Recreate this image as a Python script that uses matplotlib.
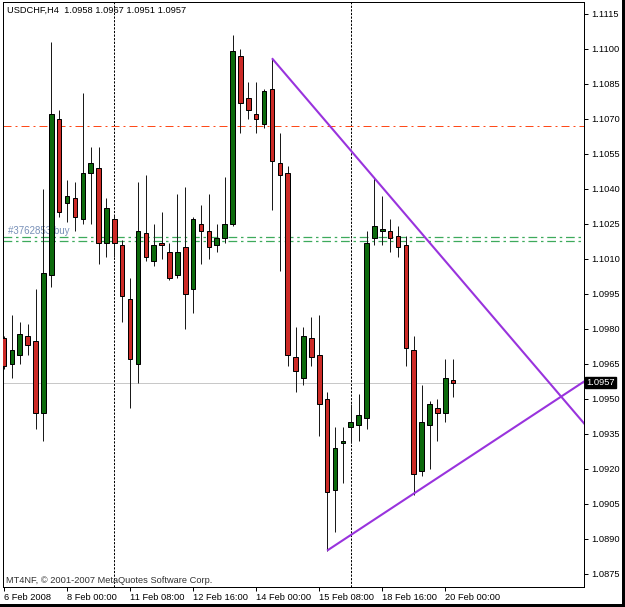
import matplotlib
matplotlib.use('Agg')
import matplotlib.pyplot as plt
import matplotlib.transforms as mtransforms
from matplotlib.patches import Rectangle
import numpy as np

plt.rcParams['font.family'] = ['Liberation Sans', 'DejaVu Sans']

# USDCHF H4 bars (first bar 6 Feb 2008 16:00)
opens = [1.0976, 1.0965, 1.0969, 1.0977, 1.0975, 1.0944, 1.1003, 1.1070, 1.1034, 1.1036,
         1.1027, 1.1047, 1.1049, 1.1017, 1.1027, 1.1016, 1.0993, 1.0965, 1.1021, 1.1009,
         1.1017, 1.1013, 1.1003, 1.1015, 1.0997, 1.1025, 1.1022, 1.1016, 1.1019, 1.1025,
         1.1097, 1.1079, 1.1072, 1.1068, 1.1083, 1.1051, 1.1047, 1.0968, 1.0959, 1.0976,
         1.0969, 1.0950, 1.0911, 1.0931, 1.0938, 1.0939, 1.0942, 1.1019, 1.1022, 1.1022,
         1.1020, 1.1016, 1.0971, 1.0919, 1.0939, 1.0946, 1.0944, 1.0958]
highs = [1.0977, 1.0986, 1.0983, 1.0982, 1.0997, 1.1040, 1.1103, 1.1074, 1.1044, 1.1043,
         1.1081, 1.1058, 1.1058, 1.1036, 1.1029, 1.1018, 1.1002, 1.1043, 1.1046, 1.1025,
         1.1030, 1.1017, 1.1038, 1.1041, 1.1028, 1.1033, 1.1038, 1.1025, 1.1045, 1.1106,
         1.1100, 1.1086, 1.1086, 1.1083, 1.1096, 1.1064, 1.1050, 1.0981, 1.0981, 1.0985,
         1.0986, 1.0953, 1.0938, 1.0938, 1.0948, 1.0952, 1.1022, 1.1045, 1.1037, 1.1027,
         1.1024, 1.1020, 1.0977, 1.0956, 1.0949, 1.0950, 1.0967, 1.0967]
lows = [1.0963, 1.0959, 1.0965, 1.0969, 1.0937, 1.0932, 1.0998, 1.1028, 1.1026, 1.1022,
        1.1025, 1.1025, 1.1008, 1.1011, 1.1011, 1.0983, 1.0946, 1.0957, 1.1009, 1.1007,
        1.1010, 1.1001, 1.1002, 1.0980, 1.0987, 1.1008, 1.1010, 1.1013, 1.1017, 1.1024,
        1.1064, 1.1070, 1.1064, 1.1066, 1.1031, 1.1005, 1.0964, 1.0953, 1.0956, 1.0964,
        1.0934, 1.0885, 1.0893, 1.0914, 1.0931, 1.0932, 1.0937, 1.1016, 1.1016, 1.1013,
        1.1011, 1.0964, 1.0909, 1.0917, 1.0920, 1.0932, 1.0940, 1.0951]
closes = [1.0964, 1.0971, 1.0978, 1.0973, 1.0944, 1.1004, 1.1072, 1.1030, 1.1037, 1.1028,
          1.1047, 1.1051, 1.1017, 1.1032, 1.1017, 1.0994, 1.0967, 1.1022, 1.1011, 1.1016,
          1.1016, 1.1002, 1.1013, 1.0995, 1.1027, 1.1022, 1.1015, 1.1019, 1.1025, 1.1099,
          1.1077, 1.1074, 1.1070, 1.1082, 1.1052, 1.1046, 1.0969, 1.0962, 1.0977, 1.0968,
          1.0948, 1.0910, 1.0929, 1.0932, 1.0940, 1.0943, 1.1017, 1.1024, 1.1023, 1.1019,
          1.1015, 1.0972, 1.0918, 1.0940, 1.0948, 1.0944, 1.0959, 1.0957]

date_ticks = [0, 8, 16, 24, 32, 40, 48, 56]
date_labels = ['6 Feb 2008', '8 Feb 00:00', '11 Feb 08:00', '12 Feb 16:00',
               '14 Feb 00:00', '15 Feb 08:00', '18 Feb 16:00', '20 Feb 00:00']
price_ticks = [1.1115, 1.1100, 1.1085, 1.1070, 1.1055, 1.1040, 1.1025, 1.1010, 1.0995,
               1.0980, 1.0965, 1.0950, 1.0935, 1.0920, 1.0905, 1.0890, 1.0875]

separators = [14, 44]           # week separators
level_orange = 1.1067
levels_order = [1.10196, 1.10175]
last_price = 1.0957

# trend lines: (bar, price) pairs
upper_line = [(34, 1.1096), (70.7, 1.0951)]
lower_line = [(41, 1.0885), (70.7, 1.0951)]

W, H = 625, 607
fig = plt.figure(figsize=(W / 100, H / 100), dpi=100)
fig.patch.set_facecolor('white')
ax = fig.add_axes([3 / W, 20 / H, 581 / W, 585 / H])
ax.set_facecolor('white')
ax.set_xlim(-0.127, 73.6)
ax.set_ylim(1.08694, 1.11201)

px = 0.72  # one pixel in points

# separators and horizontal levels
for s in separators:
    ax.axvline(s, color='black', lw=px, linestyle=(0, (2.2, 1.4)), zorder=1)
ax.axhline(level_orange, color='#FF4A1A', lw=px, linestyle=(0, (8, 4, 2, 4)), zorder=1)
for lv in levels_order:
    ax.axhline(lv, color='#3DAA5C', lw=0.9, linestyle=(0, (7, 3, 2, 3)), zorder=1)
ax.axhline(last_price, color='#C8C8C8', lw=px, zorder=1)
ax.text(0.5, levels_order[0] + 0.00003, '#3762853 buy', fontsize=7, color='#7890B8',
        va='bottom', ha='left', zorder=2)

# candles
x = np.arange(len(opens))
ax.vlines(x, lows, highs, color='#1A1A1A', lw=px, zorder=3)
bw = 0.58
for i in range(len(opens)):
    o, c = opens[i], closes[i]
    bottom = min(o, c)
    height = max(abs(c - o), 0.00005)
    face = '#0C6A0C' if c >= o else '#CC2A26'
    ax.add_patch(Rectangle((i - bw / 2, bottom), bw, height, facecolor=face,
                           edgecolor='black', lw=px, zorder=4))

# trend lines extended to the right
for (x0, y0), (x1, y1) in [upper_line, lower_line]:
    slope = (y1 - y0) / (x1 - x0)
    xe = 80
    ax.plot([x0, xe], [y0, y0 + slope * (xe - x0)], color='#9933DD', lw=1.5, zorder=5,
            solid_capstyle='butt')

# axes styling
for sp in ax.spines.values():
    sp.set_color('black')
    sp.set_linewidth(px)
ax.yaxis.tick_right()
ax.set_yticks(price_ticks)
ax.set_yticklabels(['%.4f' % p for p in price_ticks])
ax.tick_params(axis='y', length=3, width=px, pad=2, labelsize=6.7, colors='black')
ax.set_xticks(date_ticks)
ax.set_xticklabels(date_labels)
ax.tick_params(axis='x', length=3, width=px, pad=1.5, labelsize=6.7, colors='black')
for lab in ax.get_xticklabels():
    lab.set_ha('left')

# current price box
trans = mtransforms.blended_transform_factory(ax.transAxes, ax.transData)
ax.text(1.004, last_price, '1.0957', transform=trans, fontsize=6.7, color='white',
        va='center', ha='left', clip_on=False, zorder=6,
        bbox=dict(boxstyle='square,pad=0.15', facecolor='black', edgecolor='black'))

fig.text(7 / W, 1 - 10 / H, 'USDCHF,H4  1.0958 1.0967 1.0951 1.0957', fontsize=6.7,
         color='black', va='center', ha='left')
ax.text(3 / 581, 2 / 585, 'MT4NF, \u00a9 2001-2007 MetaQuotes Software Corp.',
        transform=ax.transAxes, fontsize=6.7, color='#333333', va='bottom', ha='left')

# outer frame strips (right and bottom)
fig.patches.append(Rectangle((622 / W, 0), 3 / W, 1, transform=fig.transFigure,
                             facecolor='black', edgecolor='none'))
fig.patches.append(Rectangle((0, 0), 1, 3 / H, transform=fig.transFigure,
                             facecolor='black', edgecolor='none'))

fig.savefig('out.png', dpi=100)
